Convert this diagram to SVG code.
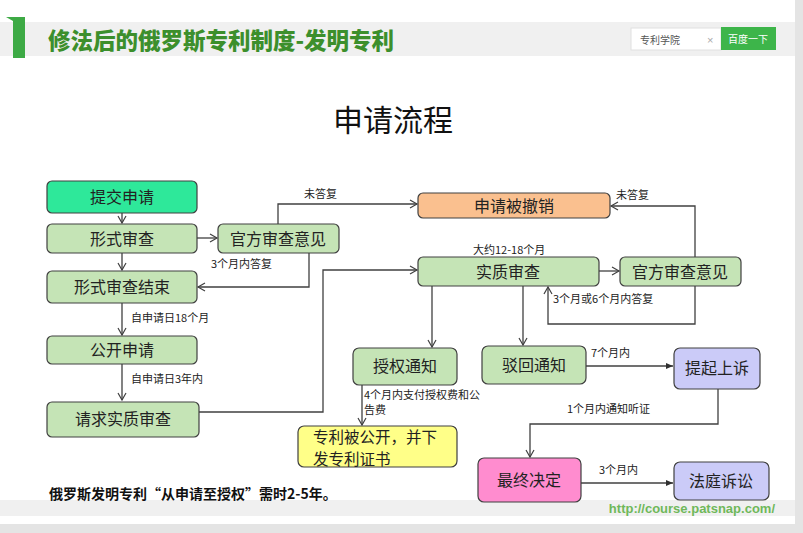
<svg xmlns="http://www.w3.org/2000/svg" width="803" height="533" viewBox="0 0 803 533">
<defs>
<marker id="arr" markerWidth="10" markerHeight="10" refX="8" refY="5" orient="auto" markerUnits="userSpaceOnUse"><path d="M1,1 L8,5 L1,9" fill="none" stroke="#404040" stroke-width="1.2"/></marker>
<marker id="arrf" markerWidth="10" markerHeight="10" refX="8" refY="5" orient="auto" markerUnits="userSpaceOnUse"><path d="M1,2 L8,5 L1,8 Z" fill="#303030"/></marker>
</defs>
<style>
.n rect{stroke:#404040;stroke-width:1.2}
.g{fill:#c5e4b6}
.t{font-family:"Noto Sans CJK SC","Liberation Sans",sans-serif;font-size:16px;fill:#222;text-anchor:middle}
.l{font-family:"Noto Sans CJK SC","Liberation Sans",sans-serif;font-size:11px;fill:#222}
.c path{fill:none;stroke:#404040;stroke-width:1.3}
</style>
<rect width="803" height="533" fill="#ffffff"/>
<g id="header">
<rect x="0" y="22" width="795" height="34" fill="#f0f0f0"/>
<path d="M6,17 L25,17 L25,58 L13,58 L13,21 Z" fill="#3daa45"/>
<text x="48" y="49" font-family="Noto Sans CJK SC,sans-serif" font-size="22.5" font-weight="900" fill="#3c8f2c">修法后的俄罗斯专利制度-发明专利</text>
<rect x="631" y="28" width="90" height="22" fill="#ffffff" stroke="#e0e0e0"/>
<text x="640" y="44" font-family="Noto Sans CJK SC,sans-serif" font-size="10" fill="#555">专利学院</text>
<text x="707" y="44" font-family="Liberation Sans,sans-serif" font-size="11" fill="#aaa">×</text>
<rect x="721" y="27" width="55" height="23" fill="#3db54a"/>
<text x="748" y="43" font-family="Noto Sans CJK SC,sans-serif" font-size="10" fill="#ffffff" text-anchor="middle">百度一下</text>
</g>
<rect x="0" y="500" width="795" height="16" fill="#f0f0f0"/>
<rect x="795" y="0" width="8" height="533" fill="#e4e4e4"/>
<rect x="0" y="524" width="803" height="9" fill="#e4e4e4"/>
<text x="775" y="513" font-family="Liberation Sans,sans-serif" font-size="13" font-weight="bold" fill="#6fb85a" text-anchor="end">http://course.patsnap.com/</text>
<text x="393" y="131" font-family="Noto Sans CJK SC,sans-serif" font-size="30" fill="#111" text-anchor="middle">申请流程</text>
<text x="49" y="499" font-family="Noto Sans CJK SC,sans-serif" font-size="14" font-weight="bold" fill="#111">俄罗斯发明专利“从申请至授权”需时2-5年。</text>

<g class="c" id="connectors">
<path d="M122,213 V223" marker-end="url(#arr)"/>
<path d="M197,238 H217" marker-end="url(#arr)"/>
<path d="M122,253 V270" marker-end="url(#arr)"/>
<path d="M309,253 V287 H198" marker-end="url(#arr)"/>
<path d="M278,224 V204 H417" marker-end="url(#arr)"/>
<path d="M122,303 V335" marker-end="url(#arr)"/>
<path d="M122,364 V400" marker-end="url(#arr)"/>
<path d="M199,412 H323 V270 H417" marker-end="url(#arr)"/>
<path d="M599,271 H619" marker-end="url(#arr)"/>
<path d="M695,257 V206 H611" marker-end="url(#arr)"/>
<path d="M695,286 V324 H548 V287" marker-end="url(#arr)"/>
<path d="M432,286 V347" marker-end="url(#arr)"/>
<path d="M523,286 V345" marker-end="url(#arr)"/>
<path d="M362,385 V425" marker-end="url(#arr)"/>
<path d="M586,366 H673" marker-end="url(#arrf)"/>
<path d="M718,389 V424 H530 V457" marker-end="url(#arr)"/>
<path d="M581,483 H673" marker-end="url(#arrf)"/>
<text class="l" x="304" y="198">未答复</text>
<text class="l" x="211" y="268">3个月内答复</text>
<text class="l" x="131" y="322">自申请日18个月</text>
<text class="l" x="131" y="383">自申请日3年内</text>
<text class="l" x="473" y="254">大约12-18个月</text>
<text class="l" x="616" y="199">未答复</text>
<text class="l" x="553" y="303">3个月或6个月内答复</text>
<text class="l" x="364" y="399" font-size="10.5">4个月内支付授权费和公</text>
<text class="l" x="364" y="414" font-size="10.5">告费</text>
<text class="l" x="591" y="357" font-size="10">7个月内</text>
<text class="l" x="567" y="413">1个月内通知听证</text>
<text class="l" x="599" y="474">3个月内</text>
</g>

<g class="n" id="n1"><rect x="47" y="181" width="150" height="32" rx="5" fill="#2ee89a"/><text class="t" x="122" y="203">提交申请</text></g>
<g class="n" id="n2"><rect x="47" y="224" width="150" height="29" rx="5" class="g"/><text class="t" x="122" y="245">形式审查</text></g>
<g class="n" id="n3"><rect x="218" y="224" width="121" height="29" rx="5" class="g"/><text class="t" x="278" y="245">官方审查意见</text></g>
<g class="n" id="n4"><rect x="47" y="271" width="150" height="32" rx="5" class="g"/><text class="t" x="122" y="293">形式审查结束</text></g>
<g class="n" id="n5"><rect x="47" y="336" width="150" height="28" rx="5" class="g"/><text class="t" x="122" y="356">公开申请</text></g>
<g class="n" id="n6"><rect x="47" y="402" width="152" height="35" rx="5" class="g"/><text class="t" x="123" y="425">请求实质审查</text></g>
<g class="n" id="n7"><rect x="418" y="193" width="192" height="25" rx="5" fill="#fac08f"/><text class="t" x="514" y="212">申请被撤销</text></g>
<g class="n" id="n8"><rect x="418" y="257" width="181" height="29" rx="5" class="g"/><text class="t" x="508" y="278">实质审查</text></g>
<g class="n" id="n9"><rect x="620" y="257" width="121" height="29" rx="5" class="g"/><text class="t" x="680" y="278">官方审查意见</text></g>
<g class="n" id="n10"><rect x="353" y="348" width="104" height="37" rx="6" class="g"/><text class="t" x="405" y="372">授权通知</text></g>
<g class="n" id="n11"><rect x="482" y="346" width="104" height="38" rx="6" class="g"/><text class="t" x="534" y="371">驳回通知</text></g>
<g class="n" id="n12"><rect x="674" y="348" width="86" height="41" rx="6" fill="#cbcbf8"/><text class="t" x="717" y="374">提起上诉</text></g>
<g class="n" id="n13"><rect x="298" y="426" width="159" height="41" rx="6" fill="#ffff88"/><text class="t" x="313" y="443" style="text-anchor:start;font-size:15.5px">专利被公开，并下</text><text class="t" x="313" y="465" style="text-anchor:start;font-size:15.5px">发专利证书</text></g>
<g class="n" id="n14"><rect x="478" y="458" width="103" height="44" rx="6" fill="#ff8ccf"/><text class="t" x="529" y="486">最终决定</text></g>
<g class="n" id="n15"><rect x="674" y="462" width="95" height="38" rx="6" fill="#cbcbf8"/><text class="t" x="721" y="487">法庭诉讼</text></g>
</svg>
